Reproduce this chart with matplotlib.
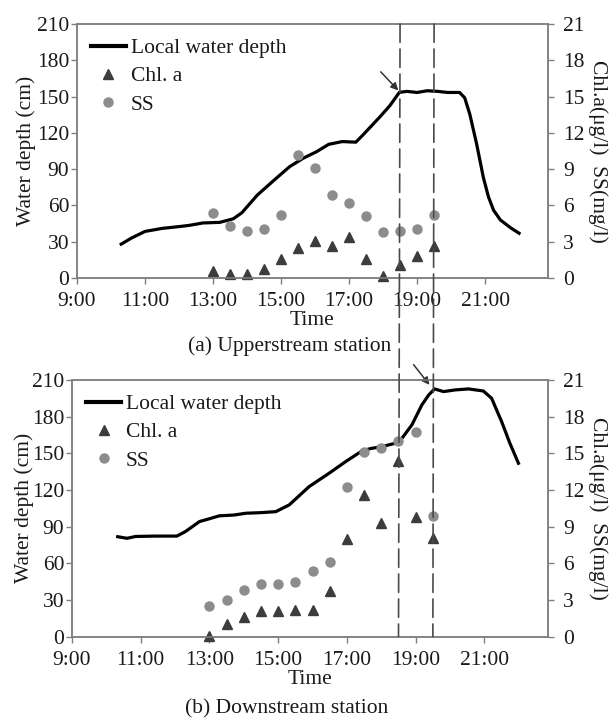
import matplotlib
matplotlib.use("Agg")
import matplotlib.pyplot as plt
from matplotlib.patches import ConnectionPatch
from matplotlib.lines import Line2D

plt.rcParams['font.family'] = ['Liberation Serif', 'DejaVu Serif']

# time axis (hours)
hour_ticks = [9, 11, 13, 15, 17, 19, 21]
hour_labels = ["9:00", "11:00", "13:00", "15:00", "17:00", "19:00", "21:00"]
depth_ticks = [0, 30, 60, 90, 120, 150, 180, 210]
conc_ticks = [0, 3, 6, 9, 12, 15, 18, 21]
sample_times = [13.0, 13.5, 14.0, 14.5, 15.0, 15.5, 16.0, 16.5, 17.0, 17.5, 18.0, 18.5, 19.0, 19.5]
flood_marks = [18.5, 19.5]

# (a) upstream station
up_t = [10.3, 10.6, 11.0, 11.5, 12.0, 12.3, 12.7, 13.2, 13.6, 13.85, 14.3, 14.8, 15.25, 15.65,
        16.05, 16.4, 16.8, 17.2, 17.4, 17.9, 18.2, 18.48, 18.7, 19.0, 19.3, 19.6, 19.9, 20.25,
        20.4, 20.55, 20.75, 20.95, 21.1, 21.25, 21.45, 21.75, 22.0]
up_depth = [28, 33, 38.5, 41, 42.5, 43.5, 45.5, 46, 49, 54, 68.5, 81, 92, 99,
            104.5, 110.5, 112.8, 112.3, 118, 133, 142.5, 153.5, 154.3, 153.4, 154.8, 154.3, 153.4, 153.4,
            149, 135.5, 111, 83, 67, 56, 48, 41.5, 37]
up_chla = [0.6, 0.3, 0.36, 0.77, 1.59, 2.47, 3.02, 2.66, 3.38, 1.56, 0.19, 1.04, 1.84, 2.66]
up_ss = [5.41, 4.34, 3.9, 4.06, 5.19, 10.18, 9.06, 6.84, 6.23, 5.11, 3.84, 3.9, 4.09, 5.19]

# (b) downstream station
down_t = [10.33, 10.6, 10.85, 11.4, 12.05, 12.3, 12.71, 13.0, 13.29, 13.7, 14.06, 14.5, 14.93, 15.32,
          15.9, 16.48, 16.96, 17.44, 17.7, 18.02, 18.41, 18.6, 18.89, 19.18, 19.38, 19.55, 19.81,
          20.15, 20.54, 20.97, 21.21, 21.5, 21.74, 21.99]
down_depth = [81.8, 80.5, 82, 82.3, 82.3, 86, 94.2, 96.5, 98.9, 99.5, 101, 101.5, 102.3, 107.8,
              122.8, 133.7, 143.2, 152, 154, 155.5, 158.3, 162.3, 173.3, 189.6, 197.8, 202.7, 200.5,
              201.9, 202.7, 201, 195, 176, 158.3, 141.9]
down_chla = [0.08, 1.04, 1.59, 2.08, 2.08, 2.19, 2.19, 3.72, 8.01, 11.57, 9.32, 14.38, 9.82, 8.1]
down_ss = [2.54, 2.98, 3.83, 4.29, 4.29, 4.48, 5.39, 6.1, 12.25, 15.07, 15.4, 16.05, 16.76, 9.87]

W, H = 610, 718
fig = plt.figure(figsize=(W / 100, H / 100), dpi=100)

FS = 15.5
spine_col = "#808080"
txt_col = "#1a1a1a"


def panel(rect, t, depth, chla, ss, caption, arrow, label_x, cap_y):
    ax = fig.add_axes(rect)
    ax.plot(t, depth, color="black", lw=2.3, label="Local water depth", zorder=3)
    ax.set_xlim(9, 22.85)
    ax.set_ylim(0, 210)
    ax.set_xticks(hour_ticks)
    ax.set_xticklabels(hour_labels)
    ax.set_yticks(depth_ticks)
    ax.tick_params(direction="out", length=4, width=1, color=spine_col,
                   labelsize=FS, labelcolor=txt_col, pad=1.5)
    ax.tick_params(axis="x", pad=6)
    for s in ax.spines.values():
        s.set_color(spine_col)
        s.set_linewidth(1.1)
    ax.set_xlabel("Time", fontsize=FS, color=txt_col, labelpad=0)
    ax.set_ylabel("Water depth (cm)", fontsize=FS, color=txt_col)
    ax.yaxis.set_label_coords(label_x, 0.5)

    ax2 = ax.twinx()
    ax2.set_ylim(0, 21)
    ax2.set_yticks(conc_ticks)
    ax2.tick_params(direction="out", length=4, width=1, color=spine_col,
                    labelsize=FS, labelcolor=txt_col, pad=7)
    for s in ax2.spines.values():
        s.set_color(spine_col)
        s.set_linewidth(1.1)
    ax2.plot(sample_times, chla, linestyle="none", marker="^", ms=6.5,
             color="#3c3c3c", label="Chl. a", clip_on=False)
    ax2.plot(sample_times, ss, linestyle="none", marker="o", ms=6.5,
             color="#8c8c8c", label="SS", clip_on=False)
    ax.text(1.105, 0.5, "Chl.a(\u03bcg/l)  SS(mg/l)", transform=ax.transAxes,
            rotation=270, ha="center", va="center", fontsize=FS, color=txt_col)

    ax.annotate("", xy=arrow[1], xytext=arrow[0], annotation_clip=False,
                arrowprops=dict(arrowstyle="-|>", color="#333333", lw=1.1,
                                mutation_scale=11, shrinkA=0, shrinkB=0))

    handles = [Line2D([], [], color="black", lw=3),
               Line2D([], [], linestyle="none", marker="^", ms=6.5, color="#3c3c3c"),
               Line2D([], [], linestyle="none", marker="o", ms=6.5, color="#8c8c8c")]
    ax2.legend(handles, ["Local water depth", "Chl. a", "SS"], loc="upper left",
               bbox_to_anchor=(0.03, 0.945), frameon=False, fontsize=FS,
               borderpad=0, borderaxespad=0, handlelength=1.6, handletextpad=0.25,
               labelspacing=0.38, labelcolor=txt_col)

    ax.text(15.25, cap_y, caption, transform=ax.get_xaxis_transform(),
            ha="center", va="center", fontsize=FS, color=txt_col)
    return ax


ax_up = panel([77 / W, 1 - 278 / H, (548 - 77) / W, (278 - 24) / H],
              up_t, up_depth, up_chla, up_ss, "(a) Upperstream station",
              ((17.93, 170.5), (18.45, 155.0)), -0.087, -0.268)
ax_dn = panel([72 / W, 1 - 636.7 / H, (548 - 72) / W, (636.7 - 380) / H],
              down_t, down_depth, down_chla, down_ss, "(b) Downstream station",
              ((18.94, 222.5), (19.4, 206.0)), -0.08, -0.28)

# dashed markers running through both panels
for xm in flood_marks:
    con = ConnectionPatch(xyA=(xm, 210), coordsA=ax_up.transData,
                          xyB=(xm, 0), coordsB=ax_dn.transData,
                          color="#4a4a4a", lw=1.2, linestyle=(0, (11, 4)))
    fig.add_artist(con)

fig.savefig("out.png", dpi=100)
